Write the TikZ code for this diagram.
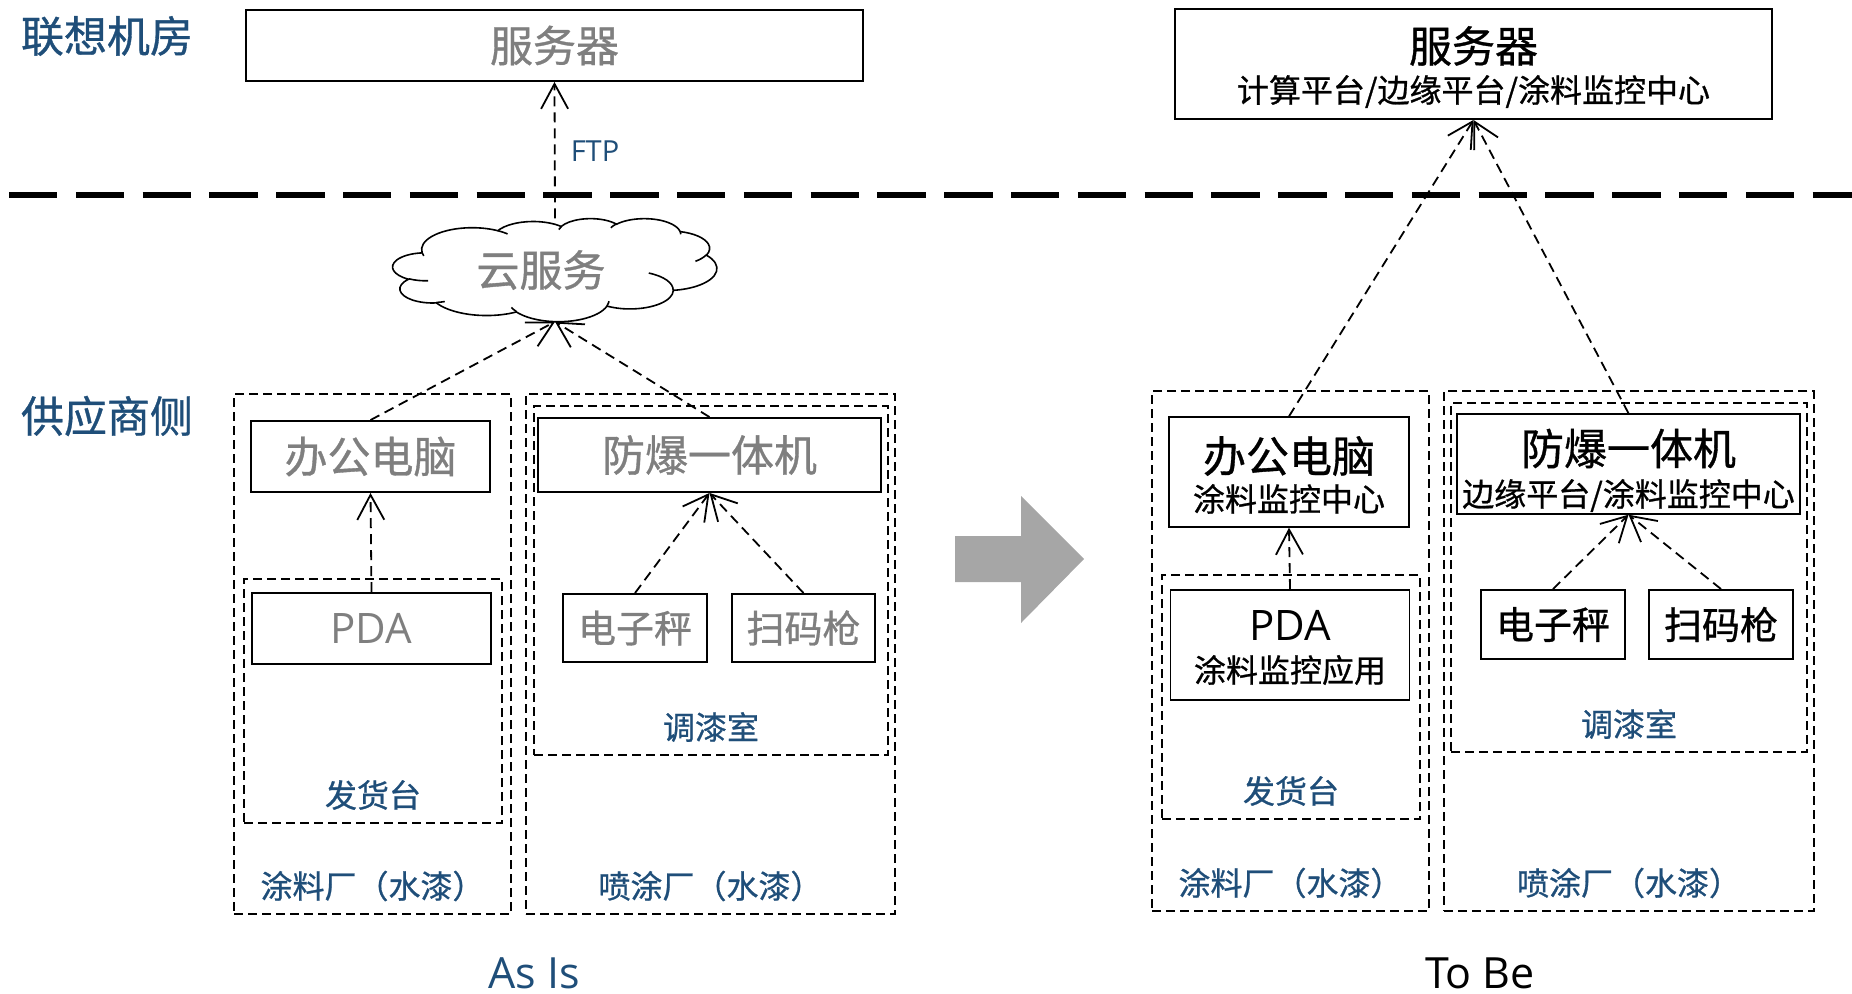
\documentclass[tikz,border=0pt]{standalone}
\usepackage{fontspec}
\setmainfont{Open Sans}
\newfontfamily\cjk{Noto Sans CJK SC}[FakeBold=0.8]
\usetikzlibrary{arrows.meta,calc}
\definecolor{myblue}{RGB}{31,78,121}
\definecolor{mygray}{RGB}{127,127,127}
\definecolor{bigarrow}{RGB}{166,166,166}
\newcommand\myfs[1]{\fontsize{#1}{#1}\selectfont}
% DrawingML-style arcTo (visual angles) -> TikZ parametric arc
\newcommand\ppArc[4]{%
  \pgfextra{%
    \pgfmathsetmacro\ppS{atan2((#1)*sin(#3),(#2)*cos(#3))}%
    \pgfmathsetmacro\ppE{atan2((#1)*sin((#3)+(#4)),(#2)*cos((#3)+(#4)))}%
    \pgfmathsetmacro\ppD{(\ppE)-(\ppS)+360*round(((#4)-(\ppE)+(\ppS))/360)}%
    \global\let\gppS\ppS \global\let\gppD\ppD}%
  arc[start angle=\gppS, delta angle=\gppD, x radius=#1, y radius=#2]}
\begin{document}
\begin{tikzpicture}[x=1pt,y=-1pt,
  box/.style={draw, line width=1.9pt, inner sep=0pt, align=center},
  zone/.style={draw, line width=1.7pt, dash pattern=on 9pt off 5pt, inner sep=0pt},
  conn/.style={line width=1.8pt, dash pattern=on 10pt off 6pt, -{Straight Barb[length=25pt,width=27pt]}},
  side/.style={font=\cjk\myfs{43}, text=myblue},
  zlabel/.style={font=\cjk\myfs{32}, text=myblue},
  old/.style={text=mygray},
]
\useasboundingbox (0,0) rectangle (1852,993);

% side labels
\node[side] (lblDC) at (107,36) {联想机房};
\node[side] (lblSup) at (107,416) {供应商侧};

% separator
\coordinate (sepL) at (9,195);
\coordinate (sepR) at (1852,195);
\draw[line width=6pt, dash pattern=on 48.3pt off 18.5pt] (sepL) -- (sepR);

% ---------------- As Is ----------------
\node[zone, minimum width=277pt, minimum height=520pt] (plantA) at (372.5,654) {};
\node[zone, minimum width=369pt, minimum height=520pt] (sprayA) at (710.5,654) {};
\node[zone, minimum width=354pt, minimum height=349pt] (mixA) at (711,580.5) {};
\node[zone, minimum width=258pt, minimum height=244pt] (shipA) at (373,701) {};

\node[box, old, minimum width=617pt, minimum height=71pt, font=\cjk\myfs{43}] (srvA) at (554.5,45.5) {服务器};

% cloud (PowerPoint cloud outline)
\node[inner sep=0pt, minimum width=324pt, minimum height=103pt, font=\cjk\myfs{43}, old] (cloud) at (555,270) {云服务\hspace*{28pt}};
\begin{scope}[shift={(cloud.north west)}, x=0.075pt, y=-0.023843pt, line width=1.6pt]
  \draw (390,1437) \ppArc{675.3}{919.0}{-190.4875}{123.7805}
    \ppArc{533.3}{726.7}{-144.1024}{89.9452}
    \ppArc{436.5}{594.5}{-145.8079}{99.7230}
    \ppArc{485.7}{659.5}{-130.9861}{117.2417}
    \ppArc{533.3}{727.3}{-78.7089}{109.0269}
    \ppArc{677.5}{922.0}{-46.2673}{130.2690}
    \ppArc{578.5}{786.7}{0.6250}{114.0333}
    \ppArc{675.2}{921.5}{22.4516}{115.1726}
    \ppArc{772.0}{1054.3}{66.2426}{75.7110}
    \ppArc{436.0}{591.8}{-274.9421}{146.7356}
    \ppArc{434.5}{594.5}{-246.8285}{152.5189} -- cycle;
  \draw (469.3,2617.7) \ppArc{434.5}{594.5}{86.742}{26.430};
  \draw (692.8,3489.9) \ppArc{436.0}{591.8}{73.610}{11.447};
  \draw (1647.8,3909.0) \ppArc{675.2}{921.5}{137.624}{14.081};
  \draw (2882.7,3475.1) \ppArc{675.2}{921.5}{6.453}{15.998};
  \draw (3412.9,2295.4) \ppArc{578.5}{786.7}{-70.292}{70.917};
  \draw (4179.8,1535.4) \ppArc{533.3}{727.3}{30.318}{27.752};
  \draw (3832.4,542.6) \ppArc{485.7}{659.5}{-13.744}{14.859};
  \draw (2907.8,395.2) \ppArc{485.7}{659.5}{-149.181}{18.195};
  \draw (2214.1,472.0) \ppArc{436.5}{594.5}{-163.494}{17.686};
  \draw (1400.0,519.2) \ppArc{675.3}{919.0}{-66.707}{12.319};
  \draw (412.7,1578.9) \ppArc{675.3}{919.0}{157.654}{11.858};
\end{scope}

\node[box, old, minimum width=239pt, minimum height=71pt, font=\cjk\myfs{43}] (pcA) at (370.5,456.5) {办公电脑};
\node[box, old, minimum width=239pt, minimum height=71pt, font=\myfs{42}] (pdaA) at (371.5,628.5) {PDA};
\node[box, old, minimum width=343pt, minimum height=74pt, font=\cjk\myfs{43}] (fbA) at (709.5,455) {防爆一体机};
\node[box, old, minimum width=144pt, minimum height=68pt, font=\cjk\myfs{38}] (scaleA) at (635,628) {电子秤};
\node[box, old, minimum width=143pt, minimum height=68pt, font=\cjk\myfs{38}] (scanA) at (803.5,628) {扫码枪};

\node[font=\myfs{29}, text=myblue] (ftp) at (595,151) {FTP};
\node[zlabel] (labShipA) at (373,795) {发货台};
\node[zlabel] (labMixA) at (711,727) {调漆室};
\node[zlabel] (labPlantA) at (372.5,886) {涂料厂（水漆）};
\node[zlabel] (labSprayA) at (710.5,886) {喷涂厂（水漆）};
\node[font=\myfs{43}, text=myblue, inner sep=0pt] (asis) at (534,973) {As Is};

\draw[conn] (cloud.north) -- (srvA.south);
\draw[conn] (pcA.north) -- (cloud.south);
\draw[conn] (fbA.north) -- (cloud.south);
\draw[conn] (pdaA.north) -- (pcA.south);
\draw[conn] (scaleA.north) -- (fbA.south);
\draw[conn] (scanA.north) -- (fbA.south);

% big arrow
\fill[bigarrow] (955,536) -- (1021,536) -- (1021,496) -- (1084,559) -- (1021,623) -- (1021,582) -- (955,582) -- cycle;

% ---------------- To Be ----------------
\node[zone, minimum width=277pt, minimum height=520pt] (plantB) at (1290.5,651) {};
\node[zone, minimum width=369.5pt, minimum height=520pt] (sprayB) at (1629,651) {};
\node[zone, minimum width=356pt, minimum height=349pt] (mixB) at (1629,577.5) {};
\node[zone, minimum width=258pt, minimum height=244pt] (shipB) at (1291,697) {};

\node[box, minimum width=597pt, minimum height=110pt, font=\cjk\myfs{32}] (srvB) at (1473.5,64)
  {\rule{0pt}{36.5pt}\smash{\myfs{43}服务器}\\[7.9pt]\smash{计算平台/边缘平台/涂料监控中心}};
\node[box, minimum width=239.5pt, minimum height=109.5pt, font=\cjk\myfs{32}] (pcB) at (1289,472)
  {\rule{0pt}{39.5pt}\smash{\myfs{43}办公电脑}\\[6.9pt]\smash{涂料监控中心}};
\node[box, minimum width=239pt, minimum height=110pt, font=\cjk\myfs{32}] (pdaB) at (1290,645)
  {\rule{0pt}{32.2pt}\smash{\rmfamily\myfs{42}PDA}\\[10.2pt]\smash{涂料监控应用}};
\node[box, minimum width=343pt, minimum height=99.5pt, font=\cjk\myfs{32}] (fbB) at (1628.5,464)
  {\rule{0pt}{43pt}\smash{\myfs{43}防爆一体机}\\[9.4pt]\smash{边缘平台/涂料监控中心}};
\node[box, minimum width=144pt, minimum height=69pt, font=\cjk\myfs{38}] (scaleB) at (1553,624.5) {电子秤};
\node[box, minimum width=144pt, minimum height=69pt, font=\cjk\myfs{38}] (scanB) at (1721,624.5) {扫码枪};

\node[zlabel] (labShipB) at (1291,791) {发货台};
\node[zlabel] (labMixB) at (1629,724) {调漆室};
\node[zlabel] (labPlantB) at (1290.5,883) {涂料厂（水漆）};
\node[zlabel] (labSprayB) at (1629,883) {喷涂厂（水漆）};
\node[font=\myfs{43}, inner sep=0pt] (tobe) at (1480,973) {To Be};

\draw[conn] (pcB.north) -- (srvB.south);
\draw[conn] (fbB.north) -- (srvB.south);
\draw[conn] (pdaB.north) -- (pcB.south);
\draw[conn] (scaleB.north) -- (fbB.south);
\draw[conn] (scanB.north) -- (fbB.south);
\end{tikzpicture}
\end{document}
